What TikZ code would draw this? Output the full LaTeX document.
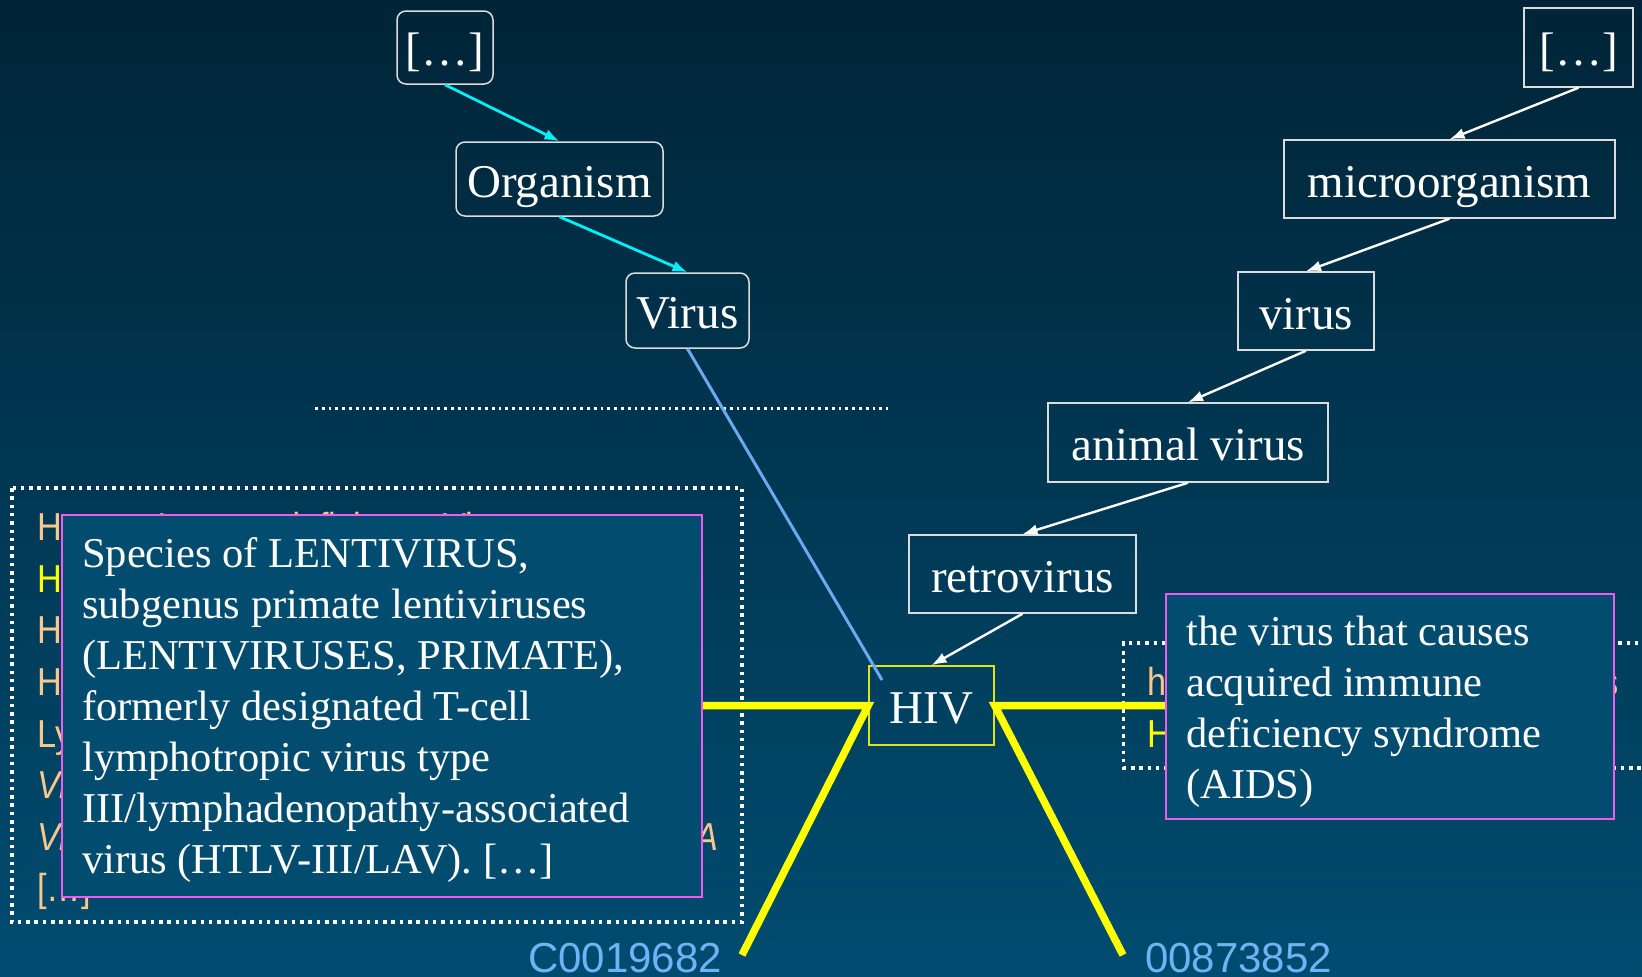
\documentclass[tikz,border=0pt]{standalone}
\usepackage{fontspec}
\setmainfont{Liberation Serif}
\newfontfamily\narrowsans[FakeStretch=0.88]{Liberation Sans}
\newfontfamily\labelsans{Liberation Sans}
\usetikzlibrary{arrows.meta}
\definecolor{bgtop}{RGB}{0,36,55}
\definecolor{bgbot}{RGB}{0,76,112}
\definecolor{boxfill}{RGB}{2,76,112}
\definecolor{magentaline}{RGB}{240,90,240}
\definecolor{peach}{RGB}{250,200,140}
\definecolor{codeblue}{RGB}{110,180,245}
\definecolor{linkblue}{RGB}{105,170,240}
\definecolor{nodeline}{RGB}{220,220,220}
\definecolor{hivline}{RGB}{225,225,30}
\definecolor{brightcyan}{RGB}{0,240,250}
\definecolor{brightyellow}{RGB}{255,255,0}
\tikzset{
  concept/.style={draw=nodeline, line width=1.5pt, inner sep=0pt, text=white,
    font=\fontsize{47}{56}\selectfont, text height=36pt, text depth=0pt},
  roundconcept/.style={concept, rounded corners=9pt},
  cyanarrow/.style={draw=brightcyan, line width=2.8pt, -{Latex[length=15pt,width=11pt]}},
  whitearrow/.style={draw=white, line width=2.4pt, -{Latex[length=15pt,width=11pt]}},
  yellowlink/.style={draw=brightyellow, line width=7.5pt},
  bluelink/.style={draw=linkblue, line width=3pt},
  dotbox/.style={draw=white, line width=3.3pt, dash pattern=on 3.5pt off 4.8pt},
  sepline/.style={draw=white, line width=3pt, dash pattern=on 2.8pt off 4pt},
  defbox/.style={draw=magentaline, line width=2pt, fill=boxfill, inner sep=0pt, anchor=north west},
  deftext/.style={text=white, inner sep=0pt, anchor=north west, align=left,
    font=\fontsize{42.5}{51}\selectfont},
  synonym/.style={inner sep=0pt, anchor=base west, text=peach,
    font=\narrowsans\fontsize{39}{47}\selectfont},
  codelabel/.style={text=codeblue, inner sep=0pt, anchor=base west,
    font=\labelsans\fontsize{42}{50}\selectfont},
}
\begin{document}
\begin{tikzpicture}[x=1pt,y=-1pt]
\useasboundingbox (0,0) rectangle (1642,977);
\shade[top color=bgtop, bottom color=bgbot] (0,0) rectangle (1642,977);

% dotted synonym boxes
\draw[dotbox] (12,488) rectangle (742,922);
\draw[dotbox] (1655,643) -- (1123.5,643) -- (1123.5,768) -- (1655,768);

% separator
\coordinate (sepL) at (315,408);
\coordinate (sepR) at (888,408);
\draw[sepline] (sepL) -- (sepR);

% synonyms (left)
\node[synonym] (s1) at (37,540) {Human Immunodeficiency Virus};
\node[synonym, text=brightyellow] (s2) at (37,592) {HIV};
\node[synonym] (s3) at (37,643) {HTLV-III};
\node[synonym] (s4) at (37,695) {Human T-Cell Leukemia Virus Type III};
\node[synonym] (s5) at (37,747) {Lymphadenopathy-Associated Virus};
\node[synonym, font=\narrowsans\itshape\fontsize{39}{47}\selectfont] (s6) at (37,798) {Virus, Human Immunodeficiency};
\node[synonym, font=\narrowsans\itshape\fontsize{39}{47}\selectfont] (s7) at (37,850) {\hbox to 681pt{Virus, Lymphadenopathy-Associated\hfil A}};
\node[synonym] (s8) at (37,901) {[…]};

% synonyms (right)
\node[synonym] (r1) at (1147,695) {human immunodeficiency virus};
\node[synonym, text=brightyellow] (r2) at (1147,747) {HIV};

% concept nodes
\node[roundconcept, minimum width=96pt, minimum height=73pt] (tl) at (445,47.5) {[…]};
\node[roundconcept, minimum width=207pt, minimum height=74pt] (org) at (559.5,179) {Organism};
\node[roundconcept, minimum width=123pt, minimum height=75pt] (vir) at (687.5,310.5) {Virus};

\node[concept, minimum width=109pt, minimum height=79pt] (tr) at (1578.5,47.5) {[…]};
\node[concept, minimum width=331pt, minimum height=78pt] (micro) at (1449.5,179) {microorganism};
\node[concept, minimum width=136pt, minimum height=78pt] (wvir) at (1306,311) {virus};
\node[concept, minimum width=280pt, minimum height=79pt] (anim) at (1188,442.5) {animal virus};
\node[concept, minimum width=227pt, minimum height=78pt] (retro) at (1022.5,574) {retrovirus};
\node[concept, draw=hivline, minimum width=125pt, minimum height=79pt] (hiv) at (931.5,705.5) {HIV};

% hierarchy arrows
\draw[cyanarrow] (tl.south) -- (org.north);
\draw[cyanarrow] (org.south) -- (vir.north);
\draw[whitearrow] (tr.south) -- (micro.north);
\draw[whitearrow] (micro.south) -- (wvir.north);
\draw[whitearrow] (wvir.south) -- (anim.north);
\draw[whitearrow] (anim.south) -- (retro.north);
\draw[whitearrow] (retro.south) -- (hiv.north);

% mapping link
\coordinate (hivin) at (882,680);
\draw[bluelink] (vir.south) -- (hivin);

% yellow links
\coordinate (yl) at (600,705.5);
\coordinate (yr) at (1250,705.5);
\coordinate (c1end) at (742,955);
\coordinate (c2end) at (1123,955);
\draw[yellowlink] (yl) -- (hiv.west) -- (c1end);
\draw[yellowlink] (yr) -- (hiv.east) -- (c2end);

% definition boxes
\node[defbox, minimum width=640pt, minimum height=382pt] (defL) at (61,514) {};
\node[deftext] (defLt) at (82,531.3) {\strut Species of LENTIVIRUS,\\
\strut subgenus primate lentiviruses\\
\strut (LENTIVIRUSES, PRIMATE),\\
\strut formerly designated T-cell\\
\strut lymphotropic virus type\\
\strut III/lymphadenopathy-associated\\
\strut virus (HTLV-III/LAV). […]};

\node[defbox, minimum width=448pt, minimum height=225pt] (defR) at (1165,593) {};
\node[deftext] (defRt) at (1186,609.3) {\strut the virus that causes\\
\strut acquired immune\\
\strut deficiency syndrome\\
\strut (AIDS)};

% identifiers
\node[codelabel] (cui) at (528,972) {C0019682};
\node[codelabel] (wn) at (1145,972) {00873852};
\end{tikzpicture}
\end{document}
